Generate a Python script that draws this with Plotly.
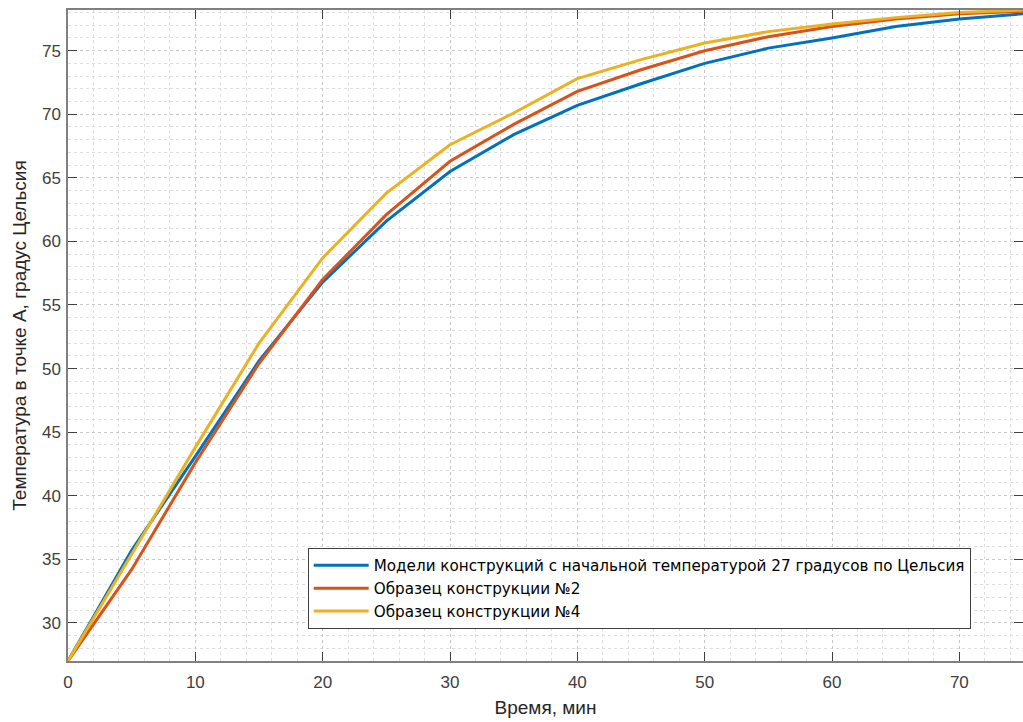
import plotly.graph_objects as go

time_min = [0, 5, 10, 15, 20, 25, 30, 35, 40, 45, 50, 55, 60, 65, 70, 75]
model_27 = [27, 35.7, 43.1, 50.6, 56.8, 61.6, 65.5, 68.4, 70.7, 72.4, 74.0, 75.2, 76.0, 76.9, 77.5, 77.9]
sample_2 = [27, 34.2, 42.6, 50.4, 57.0, 62.1, 66.3, 69.2, 71.8, 73.5, 75.0, 76.1, 76.9, 77.5, 77.9, 78.1]
sample_4 = [27, 35.4, 43.8, 52.0, 58.7, 63.8, 67.6, 70.1, 72.8, 74.3, 75.6, 76.5, 77.1, 77.6, 78.0, 78.2]

names = [
    "Модели конструкций с начальной температурой 27 градусов по Цельсия",
    "Образец конструкции №2",
    "Образец конструкции №4",
]
colors = ["#0072BD", "#D95319", "#EDB120"]

fig = go.Figure()
for ys, nm, c in zip([model_27, sample_2, sample_4], names, colors):
    fig.add_trace(go.Scatter(x=time_min, y=ys, mode="lines", name=nm,
                             line=dict(color=c, width=3)))

FONT = "Liberation Sans, Arial"
axis_common = dict(
    showline=True, linecolor="#808080", linewidth=1.5, mirror="ticks",
    ticks="inside", ticklen=9, tickcolor="#404040", tickwidth=1,
    tickfont=dict(family=FONT, size=17, color="#404040"),
    showgrid=True, gridcolor="#c8c8c8", griddash="dot", gridwidth=1,
    zeroline=False, automargin=False,
)

fig.update_xaxes(
    **axis_common, range=[0, 75], tickvals=[0, 10, 20, 30, 40, 50, 60, 70],
    ticklabelstandoff=5,
    minor=dict(dtick=2, showgrid=True, gridcolor="#dedede", griddash="dot", ticks=""),
    title=dict(text="Время, мин", font=dict(family=FONT, size=19, color="#262626"), standoff=10),
)
fig.update_yaxes(
    **axis_common, range=[27, 78.2], tickvals=[30, 35, 40, 45, 50, 55, 60, 65, 70, 75],
    ticklabelstandoff=2,
    minor=dict(dtick=1, showgrid=True, gridcolor="#dedede", griddash="dot", ticks=""),
    title=dict(text="Температура в точке А, градус Цельсия", font=dict(family=FONT, size=19, color="#262626"), standoff=10),
)

fig.update_layout(
    width=1023, height=722,
    margin=dict(l=68, r=0, t=10, b=61, autoexpand=False),
    plot_bgcolor="white", paper_bgcolor="white",
    legend=dict(
        x=0.251, y=0.1736, xanchor="left", yanchor="top",
        bgcolor="white", bordercolor="#404040", borderwidth=1,
        font=dict(family="DejaVu Sans", size=15.2, color="#000000"),
        itemwidth=55, tracegroupgap=0,
    ),
    showlegend=True,
)

post = """
document.documentElement.style.margin='0';
document.body.style.margin='0';
document.body.style.padding='0';
document.body.style.overflow='hidden';
var gd = document.getElementById('{plot_id}');
Plotly.relayout(gd, {width: 1023, height: 722});
"""

fig.write_html("out.html", post_script=post, config={"displayModeBar": False})
